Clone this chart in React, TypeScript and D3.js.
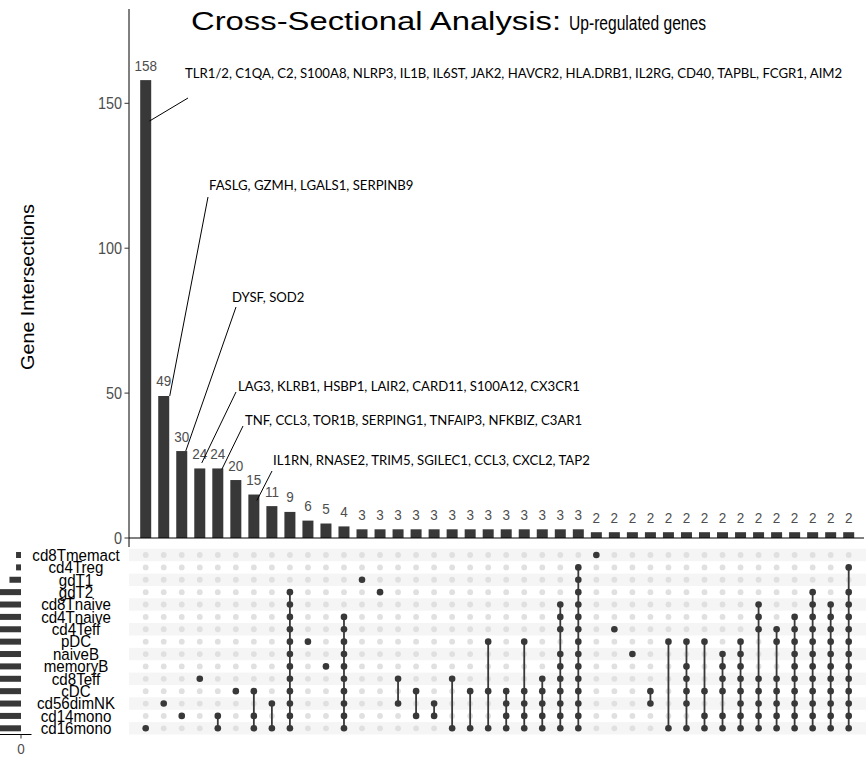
import React, { useLayoutEffect, useRef, useState } from "react";
import * as d3 from "d3";

// ---------- data ----------
const setNames = [
  "cd8Tmemact", "cd4Treg", "gdT1", "gdT2", "cd8Tnaive", "cd4Tnaive", "cd4Teff",
  "pDC", "naiveB", "memoryB", "cd8Teff", "cDC", "cd56dimNK", "cd14mono", "cd16mono",
];
const setSizes = [3, 3, 7, 30, 45, 48, 52, 58, 60, 62, 80, 95, 110, 105, 240];

const intersectionCounts = [
  158, 49, 30, 24, 24, 20, 15, 11, 9, 6, 5, 4,
  3, 3, 3, 3, 3, 3, 3, 3, 3, 3, 3, 3, 3,
  2, 2, 2, 2, 2, 2, 2, 2, 2, 2, 2, 2, 2, 2, 2,
];

const intersectionSets: string[][] = [
  ["cd16mono"],
  ["cd56dimNK"],
  ["cd14mono"],
  ["cd8Teff"],
  ["cd14mono", "cd16mono"],
  ["cDC"],
  ["cDC", "cd14mono", "cd16mono"],
  ["cd56dimNK", "cd16mono"],
  ["gdT2", "cd8Tnaive", "cd4Tnaive", "cd4Teff", "pDC", "naiveB", "memoryB", "cd8Teff", "cDC", "cd56dimNK", "cd14mono", "cd16mono"],
  ["pDC"],
  ["memoryB"],
  ["cd4Tnaive", "cd4Teff", "pDC", "naiveB", "memoryB", "cd8Teff", "cDC", "cd56dimNK", "cd14mono", "cd16mono"],
  ["gdT1"],
  ["gdT2"],
  ["cd8Teff", "cd56dimNK"],
  ["cDC", "cd14mono"],
  ["cd56dimNK", "cd14mono"],
  ["cd8Teff", "cd16mono"],
  ["cDC", "cd16mono"],
  ["pDC", "cDC", "cd16mono"],
  ["cDC", "cd56dimNK", "cd14mono", "cd16mono"],
  ["pDC", "cDC", "cd56dimNK", "cd14mono", "cd16mono"],
  ["cd8Teff", "cDC", "cd56dimNK", "cd14mono", "cd16mono"],
  ["cd8Tnaive", "cd4Tnaive", "cd4Teff", "naiveB", "memoryB", "cd8Teff", "cDC", "cd56dimNK", "cd14mono", "cd16mono"],
  ["cd4Treg", "gdT1", "gdT2", "cd8Tnaive", "cd4Tnaive", "cd4Teff", "pDC", "naiveB", "memoryB", "cd8Teff", "cDC", "cd56dimNK", "cd14mono", "cd16mono"],
  ["cd8Tmemact"],
  ["cd4Teff"],
  ["naiveB"],
  ["cDC", "cd56dimNK"],
  ["pDC", "cd16mono"],
  ["pDC", "memoryB", "cd8Teff", "cDC", "cd56dimNK", "cd16mono"],
  ["pDC", "cDC", "cd14mono", "cd16mono"],
  ["naiveB", "memoryB", "cd8Teff", "cDC", "cd14mono", "cd16mono"],
  ["pDC", "naiveB", "memoryB", "cd8Teff", "cDC", "cd56dimNK", "cd14mono", "cd16mono"],
  ["cd8Tnaive", "cd4Tnaive", "cd4Teff", "cd8Teff", "cDC", "cd56dimNK", "cd14mono", "cd16mono"],
  ["cd4Teff", "pDC", "cd8Teff", "cDC", "cd56dimNK", "cd14mono", "cd16mono"],
  ["cd4Tnaive", "cd4Teff", "pDC", "naiveB", "memoryB", "cd8Teff", "cDC", "cd56dimNK", "cd14mono", "cd16mono"],
  ["gdT2", "cd8Tnaive", "cd4Tnaive", "cd4Teff", "pDC", "naiveB", "memoryB", "cd8Teff", "cDC", "cd56dimNK", "cd14mono", "cd16mono"],
  ["cd8Tnaive", "cd4Tnaive", "cd4Teff", "pDC", "naiveB", "memoryB", "cd8Teff", "cDC", "cd56dimNK", "cd14mono", "cd16mono"],
  ["cd4Treg", "gdT2", "cd8Tnaive", "cd4Tnaive", "cd4Teff", "pDC", "naiveB", "memoryB", "cd8Teff", "cDC", "cd56dimNK", "cd14mono", "cd16mono"],
];

const yTicks = [0, 50, 100, 150];
const setSizeTicks = [0];

const annotatedColumns = [0, 1, 2, 3, 4, 6];
const annotationTexts = [
  "TLR1/2, C1QA, C2, S100A8, NLRP3, IL1B, IL6ST, JAK2, HAVCR2, HLA.DRB1, IL2RG, CD40, TAPBL, FCGR1, AIM2",
  "FASLG, GZMH, LGALS1, SERPINB9",
  "DYSF, SOD2",
  "LAG3, KLRB1, HSBP1, LAIR2, CARD11, S100A12, CX3CR1",
  "TNF, CCL3, TOR1B, SERPING1, TNFAIP3, NFKBIZ, C3AR1",
  "IL1RN, RNASE2, TRIM5, SGILEC1, CCL3, CXCL2, TAP2",
];

// ---------- layout (pixels, style) ----------
const W = 866;
const H = 778;
const annotationLayout = [
  { tx: 185, ty: 78, lx: 188, ly: 98, bdx: 3.7, bdy: 41 },
  { tx: 209, ty: 190, lx: 208, ly: 197, bdx: 6, bdy: 0 },
  { tx: 232, ty: 302, lx: 236, ly: 307, bdx: 4, bdy: 0 },
  { tx: 238, ty: 391, lx: 236, ly: 392, bdx: 2, bdy: -5.5 },
  { tx: 245, ty: 425, lx: 243, ly: 426, bdx: 4, bdy: 1 },
  { tx: 273, ty: 465, lx: 272, ly: 471, bdx: 3, bdy: 6 },
];
const FIRST_GENE_WIDTH = 657;

const DARK = "#383838";
const GRAYTXT = "#4d4d4d";
const FONT = "'Liberation Sans', Arial, Helvetica, sans-serif";
const GENEFONT = "Lato, 'Open Sans', sans-serif";
const CONDENSE = 0.9;

function CText(props: {
  x: number; y: number; size: number; anchor?: string; fill?: string; children: React.ReactNode;
}) {
  const { x, y, size, anchor = "start", fill = "#000", children } = props;
  return (
    <text
      transform={`translate(${x},${y}) scale(${CONDENSE},1)`}
      fontSize={size}
      textAnchor={anchor}
      fill={fill}
    >
      {children}
    </text>
  );
}

export default function App() {
  const n = intersectionCounts.length;
  const x = d3.scalePoint<number>().domain(d3.range(n)).range([145.7, 848.7]);
  const y = d3.scaleLinear().domain([0, 150]).range([538, 103.3]);
  const rowY = d3.scalePoint<string>().domain(setNames).range([555, 728.3]);
  const rowStep = rowY.step();
  const sx = d3.scaleLinear().domain([0, 100]).range([21, 21 - 165]);

  const panelLeft = 129;
  const panelRight = 866;
  const barW = 11;

  const firstGeneRef = useRef<SVGTextElement | null>(null);
  const [geneK, setGeneK] = useState(0.85);
  useLayoutEffect(() => {
    const el = firstGeneRef.current;
    if (el) {
      const w = el.getComputedTextLength();
      if (w > 0) setGeneK(FIRST_GENE_WIDTH / w);
    }
  }, []);

  return (
    <svg
      width={W}
      height={H}
      style={{ position: "absolute", left: 0, top: 0, background: "#fff" }}
      fontFamily={FONT}
    >
      <rect x={0} y={0} width={W} height={H} fill="#fff" />

      {/* Title */}
      <text x={191} y={30} fontSize={26} textLength={370} lengthAdjust="spacingAndGlyphs" fill="#000">
        Cross-Sectional Analysis:
      </text>
      <text x={569} y={30} fontSize={19.5} textLength={137} lengthAdjust="spacingAndGlyphs" fill="#000">
        Up-regulated genes
      </text>

      {/* Y axis */}
      <line x1={panelLeft} x2={panelLeft} y1={9} y2={547} stroke="#000" strokeWidth={1} />
      {yTicks.map((t) => (
        <g key={t}>
          <line x1={panelLeft - 4.5} x2={panelLeft} y1={y(t)} y2={y(t)} stroke="#333" />
          <CText x={panelLeft - 7} y={y(t) + 5.5} size={16} anchor="end" fill={GRAYTXT}>
            {t}
          </CText>
        </g>
      ))}
      <text
        transform={`translate(34, 287) rotate(-90)`}
        fontSize={19}
        textAnchor="middle"
        textLength={166}
        lengthAdjust="spacingAndGlyphs"
        fill="#000"
      >
        Gene Intersections
      </text>

      {/* bars */}
      {intersectionCounts.map((c, i) => (
        <g key={i}>
          <rect x={x(i)! - barW / 2} y={y(c)} width={barW} height={y(0) - y(c)} fill={DARK} />
          <CText x={x(i)!} y={y(c) - 9.5} size={15} anchor="middle" fill={GRAYTXT}>
            {c}
          </CText>
        </g>
      ))}
      <line x1={panelLeft} x2={864} y1={y(0)} y2={y(0)} stroke="#000" strokeWidth={1} />

      {/* annotations */}
      {annotatedColumns.map((col, k) => {
        const L = annotationLayout[k];
        const txt = annotationTexts[k];
        return (
          <g key={k}>
            <line
              x1={L.lx}
              y1={L.ly}
              x2={x(col)! + L.bdx}
              y2={y(intersectionCounts[col]) + L.bdy}
              stroke="#000"
              strokeWidth={1}
            />
            <text
              ref={k === 0 ? firstGeneRef : undefined}
              transform={`translate(${L.tx},${L.ty}) scale(${geneK},1)`}
              fontFamily={GENEFONT}
              fontSize={14}
              fill="#000"
            >
              {txt}
            </text>
          </g>
        );
      })}

      {/* matrix background bands */}
      {setNames.map((s, r) =>
        r % 2 === 0 ? (
          <rect
            key={s}
            x={panelLeft}
            y={rowY(s)! - rowStep / 2}
            width={panelRight - panelLeft}
            height={rowStep}
            fill="#f5f5f5"
          />
        ) : null
      )}

      {/* empty dots */}
      {intersectionCounts.map((_, i) =>
        setNames.map((s) => (
          <circle key={`e${i}-${s}`} cx={x(i)!} cy={rowY(s)!} r={2.9} fill="#e0e0e0" />
        ))
      )}

      {/* connecting lines and filled dots */}
      {intersectionSets.map((sets, i) => {
        const ys = sets.map((s) => rowY(s)!);
        const y0 = d3.min(ys)!;
        const y1 = d3.max(ys)!;
        return (
          <g key={`m${i}`}>
            {sets.length > 1 && (
              <line x1={x(i)!} x2={x(i)!} y1={y0} y2={y1} stroke={DARK} strokeWidth={1.8} />
            )}
            {sets.map((s) => (
              <circle key={s} cx={x(i)!} cy={rowY(s)!} r={3.3} fill={DARK} />
            ))}
          </g>
        );
      })}

      {/* set labels */}
      {setNames.map((s) => (
        <CText key={`l${s}`} x={76} y={rowY(s)! + 5.8} size={16.8} anchor="middle">
          {s}
        </CText>
      ))}

      {/* set size bars */}
      {setNames.map((s, r) => (
        <rect
          key={`b${s}`}
          x={sx(setSizes[r])}
          y={rowY(s)! - 3}
          width={sx(0) - sx(setSizes[r])}
          height={6}
          fill={DARK}
        />
      ))}
      <line x1={0} x2={31.5} y1={734.5} y2={734.5} stroke="#000" strokeWidth={1} />
      {setSizeTicks.map((t) => (
        <g key={`st${t}`}>
          <line x1={sx(t)} x2={sx(t)} y1={734.5} y2={738.5} stroke="#333" />
          <CText x={sx(t)} y={754} size={15} anchor="middle" fill={GRAYTXT}>
            {t}
          </CText>
        </g>
      ))}
    </svg>
  );
}
